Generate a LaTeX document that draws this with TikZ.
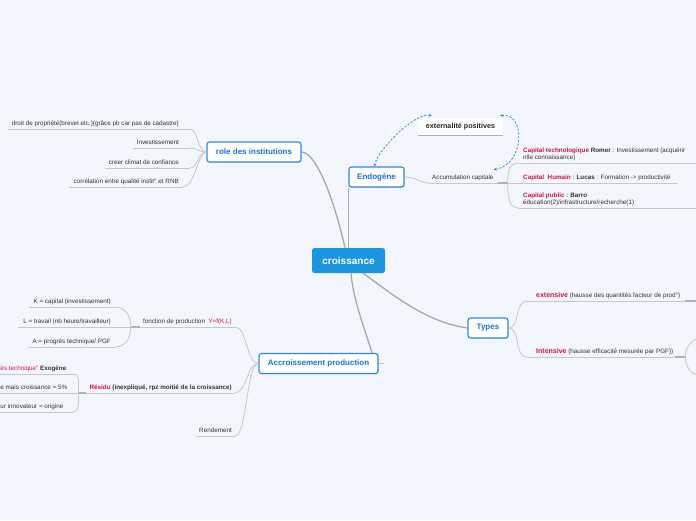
\documentclass[tikz,border=0pt]{standalone}
\usepackage{fontspec}
\setmainfont{Liberation Sans}
\usetikzlibrary{arrows.meta,shadows}
\definecolor{bg}{HTML}{F4F6FD}
\definecolor{mainfill}{HTML}{1B95E0}
\definecolor{nodeborder}{HTML}{2F87E3}
\definecolor{topictext}{HTML}{1A74D8}
\definecolor{redtxt}{HTML}{CC163C}
\definecolor{leaftxt}{HTML}{333333}
\definecolor{mainline}{HTML}{A8A8A8}
\definecolor{subline}{HTML}{C8C8C8}
\definecolor{stubline}{HTML}{B0B0B0}
\definecolor{dashblue}{HTML}{3A8EE6}
\newcommand\rt[1]{\textcolor{redtxt}{#1}}
\newcommand\rb[1]{\textcolor{redtxt}{\bfseries #1}}
\begin{document}
\begin{tikzpicture}[x=1pt,y=-1pt,
  mainbox/.style={fill=mainfill, rounded corners=2.5pt, text=white, font=\fontsize{10}{12}\selectfont\bfseries, inner sep=0pt, minimum width=73pt, minimum height=25pt},
  topic/.style={draw=nodeborder, line width=1.1pt, fill=white, rounded corners=2.5pt, text=topictext, font=\fontsize{8}{10}\selectfont\bfseries, inner sep=0pt, minimum height=20pt, drop shadow={shadow xshift=0.7pt, shadow yshift=-0.9pt, opacity=0.25}},
  leaf/.style={inner xsep=0pt, inner ysep=2pt, text depth=1.5pt, text=leaftxt, font=\fontsize{6.3}{7}\selectfont},
  mainconn/.style={draw=mainline, line width=1.3pt},
  subconn/.style={draw=subline, line width=0.8pt},
  stub/.style={draw=stubline, line width=2pt},
  relarrow/.style={draw=dashblue, line width=0.8pt, dash pattern=on 2.2pt off 1.6pt, arrows={Stealth[length=3pt,width=3pt]-Stealth[length=3pt,width=3pt]}}
]
\fill[bg] (0,0) rectangle (696,520);
\useasboundingbox (0,0) rectangle (696,520);
\coordinate (leftedge) at (-5,0);
\coordinate (rightedge) at (701,0);

% main nodes
\node[mainbox] (croiss) at (348.5,260.5) {croissance};
\node[topic, minimum width=55pt] (endo) at (376.5,177) {Endogène};
\node[topic, minimum width=94pt] (role) at (254,152) {role des institutions};
\node[topic, minimum width=119pt] (accr) at (318.5,363.5) {Accroissement production};
\node[topic, minimum width=40pt] (types) at (488,328) {Types};

% main connectors
\draw[mainconn] (role.east) .. controls +(15,0) and +(-10,-45) .. ([xshift=-3.5pt]croiss.north);
\draw[mainconn] (endo.south west) -- (endo.south west |- croiss.north);
\draw[mainconn] ([xshift=14.5pt]croiss.south) .. controls +(27,19) and +(-43,-6) .. (types.west);
\draw[mainconn] ([xshift=2.5pt]croiss.south) .. controls +(2,26) and +(-7,-23) .. ([xshift=-6.5pt]accr.north east);
\draw[subconn] (accr.east) -- ([xshift=5pt]accr.east);

% role des institutions
\node[leaf, anchor=south east] (r1) at (179,129) {droit de propriété(brevet etc.)(grâce pb car pas de cadastre)};
\node[leaf, anchor=south east] (r2) at (179,148) {Investissement};
\node[leaf, anchor=south east] (r3) at (179,168) {creer climat de confiance};
\node[leaf, anchor=south east] (r4) at (179,187) {corrélation entre qualité instit° et RNB};
\foreach \n in {r1,r2,r3}{
  \draw[subconn] ([xshift=-4pt]\n.south west) -- ([xshift=11pt]\n.south east);
  \draw[subconn] (role.west) .. controls +(-9,0) and +(8,0) .. ([xshift=11pt]\n.south east);
}
\draw[subconn] ([xshift=-4pt]r4.south west) -- ([xshift=3pt]r4.south east);
\draw[subconn] (role.west) .. controls +(-9,0) and +(14,0) .. ([xshift=3pt]r4.south east);

% Endogene
\node[fill=white, minimum width=85pt, minimum height=17pt, inner sep=0pt, font=\fontsize{7.2}{9}\selectfont\bfseries, text=black!85] (ext) at (460.5,126.5) {externalité positives};
\draw[draw=stubline, line width=0.8pt] (ext.south west) -- (ext.south east);
\node[leaf, anchor=south west] (acc) at (432,183) {Accumulation capitale};
\coordinate (accend) at ([xshift=14pt]acc.south east);
\draw[subconn] ([xshift=-2pt]acc.south west) -- ([xshift=4pt]acc.south east);
\draw[subconn] (endo.east) .. controls +(12,0) and +(-12,0) .. ([xshift=-2pt]acc.south west);
\draw[stub] ([xshift=4pt]acc.south east) -- (accend);

\node[leaf, anchor=south west, align=left] (c1) at (523,163) {\rb{Capital technologique} \textbf{Romer} : Investissement (acquérir\\nlle connaissance)};
\node[leaf, anchor=south west] (c2) at (523,183) {\rb{Capital\ \ Humain} : \textbf{Lucas} : Formation -> productivité};
\node[leaf, anchor=south west, align=left] (c3) at (523,208) {\rb{Capital public} : \textbf{Barro}\\éducation(2)/infrastructure/recherche(1)};
\draw[subconn] ([xshift=-4pt]c1.south west) -- (c1.south west -| rightedge);
\draw[subconn] (accend) .. controls +(0,-16) and +(-8,0) .. ([xshift=-4pt]c1.south west);
\draw[subconn] (accend) -- ([xshift=7pt]c2.south east);
\draw[subconn] ([xshift=-4pt]c3.south west) -- (c3.south west -| rightedge);
\draw[subconn] (accend) .. controls +(0,20) and +(-8,0) .. ([xshift=-4pt]c3.south west);

\draw[relarrow] ([xshift=14pt,yshift=2pt]ext.north west) .. controls +(-17,-4) and +(3,-16) .. ([xshift=-2pt]endo.north);
\draw[relarrow] ([xshift=-3pt,yshift=2pt]ext.north east) .. controls +(25,-4) and +(32,-5) .. ([yshift=3pt]acc.north east);

% Types
\node[leaf, anchor=south west] (t1) at (536,301) {\textcolor{redtxt}{\fontsize{7}{8}\selectfont\bfseries extensive} (hausse des quantités facteur de prod°)};
\node[leaf, anchor=south west] (t2) at (536,357) {\textcolor{redtxt}{\fontsize{7}{8}\selectfont\bfseries Intensive} (hausse efficacité mesurée par PGF))};
\coordinate (t1stub) at ([xshift=5pt]t1.south east);
\draw[subconn] ([xshift=-9pt]t1.south west) -- (t1stub);
\draw[subconn] (types.east) .. controls +(12,0) and +(-13,0) .. ([xshift=-9pt]t1.south west);
\draw[subconn] ([xshift=-9pt]t2.south west) -- ([xshift=2pt]t2.south east);
\draw[subconn] (types.east) .. controls +(12,0) and +(-13,0) .. ([xshift=-9pt]t2.south west);
\draw[stub] (t1stub) -- (t1stub -| rightedge);
\coordinate (t2stub) at ([xshift=12pt]t2.south east);
\draw[stub] ([xshift=2pt]t2.south east) -- (t2stub);
\draw[subconn] (t2stub) .. controls +(0,-14) and +(-5,0) .. ([yshift=19pt]t2stub -| rightedge);
\draw[subconn] (t2stub) .. controls +(0,14) and +(-5,0) .. ([yshift=-19pt]t2stub -| rightedge);

% Accroissement production
\node[leaf, anchor=south east] (a1) at (232,327) {fonction de production\ \ \rt{Y=f(K,L)}};
\node[leaf, anchor=south east] (a2) at (232,393) {\rb{Résidu} \textbf{(inexpliqué, rpz moitié de la croissance)}};
\node[leaf, anchor=south east] (a3) at (232,436) {Rendement};
\foreach \n in {a1,a2,a3}{
  \draw[subconn] ([xshift=-3pt]\n.south west) -- ([xshift=3pt]\n.south east);
  \draw[subconn] (accr.west) .. controls +(-12,0) and +(12,0) .. ([xshift=3pt]\n.south east);
}
\coordinate (fend) at ([xshift=-12pt]a1.south west);
\draw[stub] ([xshift=-3pt]a1.south west) -- (fend);
\coordinate (rend) at ([xshift=-11pt]a2.south west);
\draw[stub] ([xshift=-3pt]a2.south west) -- (rend);

\node[leaf, anchor=south east] (f1) at (111,307) {K = capital (investissement)};
\node[leaf, anchor=south east] (f2) at (111,327) {L = travail (nb heure/travailleur)};
\node[leaf, anchor=south east] (f3) at (111,347) {A = progrès technique/ PGF};
\draw[subconn] ([xshift=-4pt]f1.south west) -- ([xshift=4pt]f1.south east);
\draw[subconn] (fend) .. controls +(0,-14) and +(8,0) .. ([xshift=4pt]f1.south east);
\draw[subconn] ([xshift=-5pt]f2.south west) -- (fend);
\draw[subconn] ([xshift=-4pt]f3.south west) -- ([xshift=4pt]f3.south east);
\draw[subconn] (fend) .. controls +(0,14) and +(8,0) .. ([xshift=4pt]f3.south east);

\node[leaf, anchor=south west] (e1) at (0.3,374) {\rt{ès technique"} \textbf{Exogène}};
\node[leaf, anchor=south west] (e2) at (0.3,393) {e mais croissance = 5\%};
\node[leaf, anchor=south west] (e3) at (0.3,412) {ur innovateur = origine};
\draw[subconn] (e1.south east -| leftedge) -- ([xshift=7pt]e1.south east);
\draw[subconn] (rend) .. controls +(0,-14) and +(6,0) .. ([xshift=7pt]e1.south east);
\draw[subconn] (e2.south east -| leftedge) -- (rend);
\draw[subconn] (e3.south east -| leftedge) -- ([xshift=9pt]e3.south east);
\draw[subconn] (rend) .. controls +(0,14) and +(6,0) .. ([xshift=9pt]e3.south east);
\end{tikzpicture}
\end{document}
